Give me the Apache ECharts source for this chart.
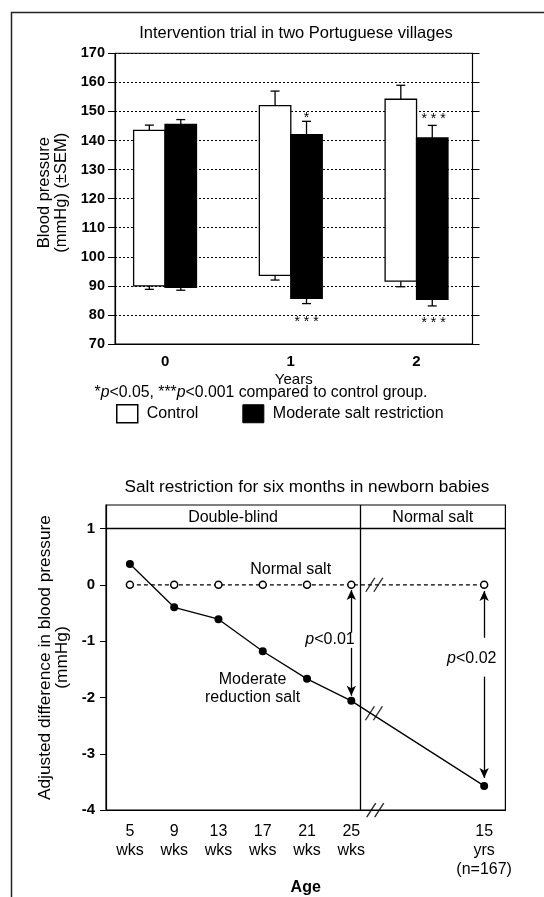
<!DOCTYPE html>
<html>
<head>
<meta charset="utf-8">
<script src="https://cdn.jsdelivr.net/npm/echarts@6.0.0/dist/echarts.min.js"></script>
<style>
  html, body { margin: 0; padding: 0; background: #fff; }
  #chart { width: 544px; height: 897px; }
</style>
</head>
<body>
<div id="chart"></div>
<script>
// top panel: bars span diastolic..systolic (mmHg), whiskers = ±SEM
const years = [0, 1, 2]
const yearLabels = ['0', '1', '2']
const controlSys = [143.5, 152, 154.2]
const controlSysErr = [145.3, 157, 159]
const controlDia = [90, 93.6, 91.6]
const controlDiaErr = [88.8, 92, 89.7]
const saltSys = [145.5, 142, 140.9]
const saltSysErr = [147.2, 146.6, 145.2]
const saltDia = [89.5, 85.7, 85.4]
const saltDiaErr = [88.5, 83.9, 83.1]
// significance marks [year, mmHg, text]
const stars = [
  [1.125, 147.8, '*'],
  [1.125, 77.6, '* * *'],
  [2.135, 147.4, '* * *'],
  [2.135, 77.2, '* * *']
]

// bottom panel: adjusted difference in BP (mmHg) by age
const agePos = [0, 1, 2, 3, 4, 5, 8]
const ageLabels = ['5\nwks', '9\nwks', '13\nwks', '17\nwks', '21\nwks', '25\nwks', '15\nyrs\n(n=167)']
const normalSalt = [0, 0, 0, 0, 0, 0, 0]
const reducedSalt = [0.37, -0.4, -0.61, -1.18, -1.67, -2.06, -3.57]
const diffTicks = [-4, -3, -2, -1, 0, 1]
const phaseSplit = 5.196
const breakAt = [[5.52, 0], [5.51, -2.28], [5.54, -4]]
const notes = [
  [3.63, 0.27, 'Normal salt'],
  [2.77, -1.84, 'Moderate\nreduction salt'],
  [4.52, -0.97, '{i|p}<0.01'],
  [7.72, -1.31, '{i|p}<0.02'],
  [2.33, 1.19, 'Double-blind'],
  [6.84, 1.19, 'Normal salt']
]

const font = 'Liberation Sans, Arial, sans-serif'
const chart = echarts.init(document.getElementById('chart'))

function floatBar(side, fill, sys, sysErr, dia, diaErr) {
  return function (params, api) {
    const i = params.dataIndex
    const w = api.size([0.25, 0])[0]
    const c = api.coord([years[i], sys[i]])
    const x0 = side < 0 ? c[0] - w : c[0]
    const cx = x0 + w / 2
    const yBot = api.coord([years[i], dia[i]])[1]
    const yTopErr = api.coord([years[i], sysErr[i]])[1]
    const yBotErr = api.coord([years[i], diaErr[i]])[1]
    const ls = { stroke: '#000', lineWidth: 1.3 }
    return {
      type: 'group',
      children: [
        { type: 'line', shape: { x1: cx, y1: c[1], x2: cx, y2: yTopErr }, style: ls },
        { type: 'line', shape: { x1: cx - 4.5, y1: yTopErr, x2: cx + 4.5, y2: yTopErr }, style: ls },
        { type: 'line', shape: { x1: cx, y1: yBot, x2: cx, y2: yBotErr }, style: ls },
        { type: 'line', shape: { x1: cx - 4.5, y1: yBotErr, x2: cx + 4.5, y2: yBotErr }, style: ls },
        { type: 'rect', shape: { x: x0, y: c[1], width: w, height: yBot - c[1] }, style: { fill: fill, stroke: '#000', lineWidth: 1.3 } }
      ]
    }
  }
}

function textItem(list, size) {
  return function (params, api) {
    const d = list[params.dataIndex]
    const p = api.coord([d[0], d[1]])
    return {
      type: 'text', x: p[0], y: p[1],
      style: {
        text: d[2], fill: '#000', fontSize: size, fontFamily: font,
        align: 'center', verticalAlign: 'middle', lineHeight: 18,
        rich: { i: { fontStyle: 'italic', fontSize: size, fontFamily: font } }
      }
    }
  }
}

const tickFont = { color: '#000', fontSize: 15, fontWeight: 'bold', fontFamily: font }
const blackLine = { onZero: false, lineStyle: { color: '#000', width: 1.2 } }

chart.setOption({
  animation: false,
  backgroundColor: '#fff',
  textStyle: { fontFamily: font, color: '#000' },
  grid: [
    { left: 115, right: 71.5, top: 53.3, bottom: 553, show: true, borderColor: '#000', borderWidth: 1 },
    { left: 106, right: 38.6, top: 505, bottom: 76.3, show: true, borderColor: '#000', borderWidth: 1.2 }
  ],
  legend: {
    left: 116, top: 404, padding: 0, itemWidth: 21, itemHeight: 18, itemGap: 44,
    textStyle: { fontSize: 16, color: '#000', fontFamily: font, padding: [0, 0, 0, 4] },
    data: [
      { name: 'Control', icon: 'rect', itemStyle: { color: '#fff', borderColor: '#000', borderWidth: 1.5 } },
      { name: 'Moderate salt restriction', icon: 'rect', itemStyle: { color: '#000', borderColor: '#000', borderWidth: 1 } }
    ]
  },
  xAxis: [
    {
      gridIndex: 0, type: 'value', min: -0.398, max: 2.445,
      axisLine: blackLine,
      axisTick: { show: false }, splitLine: { show: false },
      axisLabel: Object.assign({ customValues: years, margin: 10, formatter: v => yearLabels[years.indexOf(Math.round(v))] }, tickFont),
      name: 'Years', nameLocation: 'middle', nameGap: 28,
      nameTextStyle: { fontSize: 15, color: '#000', fontFamily: font }
    },
    {
      gridIndex: 1, type: 'value', min: -0.54, max: 8.48,
      axisLine: blackLine,
      axisTick: { show: false }, splitLine: { show: false },
      axisLabel: {
        customValues: agePos, margin: 12, lineHeight: 19,
        color: '#000', fontSize: 16, fontFamily: font,
        formatter: v => ageLabels[agePos.indexOf(Math.round(v))]
      },
      name: 'Age', nameLocation: 'middle', nameGap: 54,
      nameTextStyle: { fontSize: 16, fontWeight: 'bold', color: '#000', fontFamily: font }
    }
  ],
  yAxis: [
    {
      gridIndex: 0, type: 'value', min: 70, max: 170, interval: 10,
      axisLine: Object.assign({ show: true }, blackLine),
      axisTick: { show: true, inside: false, length: 7, lineStyle: { color: '#000' } },
      splitLine: { show: true, lineStyle: { color: '#000', type: [2, 2], width: 1 } },
      axisLabel: Object.assign({ margin: 10 }, tickFont, { fontSize: 14.5 }),
      name: 'Blood pressure\n(mmHg) (±SEM)', nameLocation: 'middle', nameGap: 40,
      nameTextStyle: { fontSize: 16.5, lineHeight: 17, color: '#000', fontFamily: font, padding: [0, 0, 0, 12] }
    },
    {
      gridIndex: 0, type: 'value', position: 'right', min: 70, max: 170, interval: 10,
      axisLine: Object.assign({ show: true }, blackLine),
      axisTick: { show: true, inside: false, length: 7, lineStyle: { color: '#000' } },
      splitLine: { show: false }, axisLabel: { show: false }
    },
    {
      gridIndex: 1, type: 'value', min: -4, max: 1.417,
      axisLine: Object.assign({ show: true }, blackLine),
      axisTick: { show: true, inside: false, length: 6, customValues: diffTicks, lineStyle: { color: '#000' } },
      splitLine: { show: false },
      axisLabel: Object.assign({ margin: 11, customValues: diffTicks }, tickFont),
      name: 'Adjusted difference in blood pressure\n(mmHg)', nameLocation: 'middle', nameGap: 33,
      nameTextStyle: { fontSize: 17.3, lineHeight: 17, color: '#000', fontFamily: font }
    }
  ],
  series: [
    {
      name: 'Control', type: 'custom', xAxisIndex: 0, yAxisIndex: 0,
      itemStyle: { color: '#fff', borderColor: '#000' },
      renderItem: floatBar(-1, '#fff', controlSys, controlSysErr, controlDia, controlDiaErr),
      encode: { x: 0, y: [1, 2] },
      data: years.map((y, i) => [y, controlSysErr[i], controlDiaErr[i]])
    },
    {
      name: 'Moderate salt restriction', type: 'custom', xAxisIndex: 0, yAxisIndex: 0,
      itemStyle: { color: '#000' },
      renderItem: floatBar(1, '#000', saltSys, saltSysErr, saltDia, saltDiaErr),
      encode: { x: 0, y: [1, 2] },
      data: years.map((y, i) => [y, saltSysErr[i], saltDiaErr[i]])
    },
    {
      name: 'stars', type: 'custom', xAxisIndex: 0, yAxisIndex: 0, silent: true,
      renderItem: textItem(stars, 14),
      data: stars.map(s => [s[0], s[1]])
    },
    {
      name: 'Normal salt', type: 'line', xAxisIndex: 1, yAxisIndex: 2, z: 3,
      symbol: 'circle', symbolSize: 7,
      itemStyle: { color: '#fff', borderColor: '#000', borderWidth: 1.5 },
      lineStyle: { color: '#000', width: 1.2, type: [4, 3] },
      data: agePos.map((x, i) => [x, normalSalt[i]]),
      markLine: {
        silent: true, symbol: ['none', 'none'], label: { show: false },
        lineStyle: { color: '#000', type: 'solid', width: 1.3 },
        data: [{ yAxis: 1 }, { xAxis: phaseSplit }]
      }
    },
    {
      name: 'Moderate reduction salt', type: 'line', xAxisIndex: 1, yAxisIndex: 2, z: 4,
      symbol: 'circle', symbolSize: 8,
      itemStyle: { color: '#000' },
      lineStyle: { color: '#000', width: 1.3 },
      data: agePos.map((x, i) => [x, reducedSalt[i]]),
      markLine: {
        silent: true, symbol: ['none', 'arrow'], symbolSize: [7, 10], label: { show: false },
        lineStyle: { color: '#000', type: 'solid', width: 1.3 },
        data: [
          [{ coord: [5, -0.85] }, { coord: [5, -0.09] }],
          [{ coord: [5, -1.12] }, { coord: [5, -1.97] }],
          [{ coord: [8, -0.94] }, { coord: [8, -0.11] }],
          [{ coord: [8, -1.63] }, { coord: [8, -3.43] }]
        ]
      }
    },
    {
      name: 'breaks', type: 'scatter', xAxisIndex: 1, yAxisIndex: 2, z: 5, silent: true,
      symbol: 'path://M0,14 L9,0 M8,14 L17,0', symbolSize: [17, 14],
      itemStyle: { color: 'none', borderColor: '#000', borderWidth: 1.3 },
      data: breakAt
    },
    {
      name: 'notes', type: 'custom', xAxisIndex: 1, yAxisIndex: 2, silent: true, z: 6,
      renderItem: textItem(notes, 16),
      data: notes.map(n => [n[0], n[1]])
    }
  ],
  graphic: [
    { type: 'polyline', shape: { points: [[11.5, 897], [11.5, 12.5], [544, 12.5]] }, style: { stroke: '#222', lineWidth: 1.5, fill: null } },
    { type: 'text', x: 296, y: 33, style: { text: 'Intervention trial in two Portuguese villages', fontSize: 16.5, fontFamily: font, fill: '#000', align: 'center', verticalAlign: 'middle' } },
    {
      type: 'text', x: 261, y: 393,
      style: {
        text: '*{i|p}<0.05, ***{i|p}<0.001 compared to control group.', fontSize: 15.8, fontFamily: font, fill: '#000',
        align: 'center', verticalAlign: 'middle',
        rich: { i: { fontStyle: 'italic', fontSize: 15.8, fontFamily: font } }
      }
    },
    { type: 'text', x: 307, y: 487, style: { text: 'Salt restriction for six months in newborn babies', fontSize: 17.2, fontFamily: font, fill: '#000', align: 'center', verticalAlign: 'middle' } }
  ]
})
</script>
</body>
</html>
